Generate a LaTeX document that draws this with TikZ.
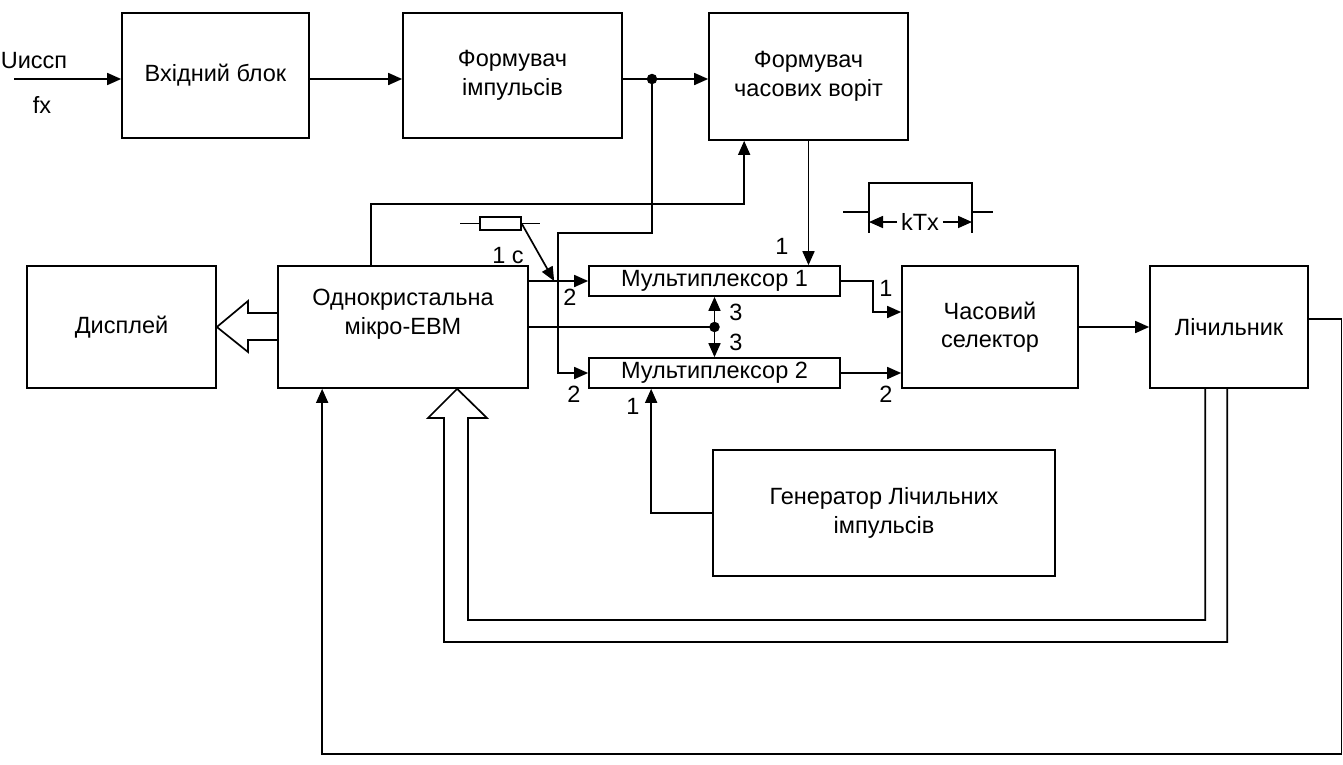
\documentclass[tikz,border=0pt]{standalone}
\usepackage{fontspec}
\setmainfont{Liberation Sans}
\usetikzlibrary{arrows.meta,calc}
\begin{document}
\begin{tikzpicture}[x=1pt,y=-1pt,line width=1.7pt,
  every node/.style={font=\fontsize{23.5}{28.5}\selectfont},
  blk/.style={draw,rectangle,inner sep=0pt,align=center},
  txt/.style={inner sep=0pt,align=center},
  arr/.style={-{Triangle[length=14pt,width=12pt]}},
  dot/.style={circle,fill,inner sep=0pt,minimum size=10.5pt}]
\useasboundingbox (0,0) rectangle (1343,764);

% blocks
\node[blk,minimum width=187pt,minimum height=125pt] (vb) at (215.5,75.5) {Вхідний блок};
\node[blk,minimum width=219pt,minimum height=125pt] (fi) at (512.5,75.5) {Формувач\\імпульсів};
\node[blk,minimum width=199pt,minimum height=127pt] (fcv) at (808.5,76.5) {Формувач\\часових воріт};
\node[blk,minimum width=189pt,minimum height=122pt] (disp) at (121.5,327) {Дисплей};
\node[blk,minimum width=250pt,minimum height=122pt] (evm) at (403,327) {};
\node[txt] (evmt) at ($(evm.center)+(0,-13)$) {Однокристальна\\мікро-ЕВМ};
\node[blk,minimum width=251pt,minimum height=30pt] (m1) at (714.5,281) {Мультиплексор 1};
\node[blk,minimum width=251pt,minimum height=30pt] (m2) at (714.5,373) {Мультиплексор 2};
\node[blk,minimum width=176pt,minimum height=122pt] (cs) at (990,327) {Часовий\\селектор};
\node[blk,minimum width=158pt,minimum height=122pt] (lich) at (1229,327) {Лічильник};
\node[blk,minimum width=342pt,minimum height=126pt] (gen) at (884,513) {Генератор Лічильних\\імпульсів};

% input
\coordinate (inp) at (14,79);
\node[txt] (u) at (34,61) {Uиссп};
\node[txt] (fx) at (42,105) {fx};
\draw[arr] (inp) -- (inp -| vb.west);
\draw[arr] (vb.east |- inp) -- (fi.west |- inp);
\draw[arr] (fi.east |- inp) -- (fcv.west |- inp);
\node[dot] (j1) at (652,79) {};

% branch from the pulse shaper to multiplexer 2
\coordinate (b1) at (652,233);
\coordinate (b2) at (558,233);
\draw[arr] (j1.center) -- (b1) -- (b2) -- (b2 |- m2.west) -- (m2.west);
\node[txt] (l2b) at (574,394) {2};

% microcomputer to multiplexer 1
\draw[arr] (evm.east |- m1.west) -- (m1.west);
\node[txt] (l2a) at (570,297) {2};

% 1 s reference resistor
\node[draw,rectangle,inner sep=0pt,minimum width=41pt,minimum height=13pt,line width=1.3pt] (res) at (500.5,223.5) {};
\coordinate (r1) at (460,223.5);
\coordinate (r2) at (540,223.5);
\draw[line width=1.3pt] (r1) -- (res.west);
\draw[line width=1.3pt] (res.east) -- (r2);
\coordinate (tap) at ($(m1.west)+(-34,0)$);
\draw[arr] (res.east) -- (tap);
\node[txt] (l1c) at (508,256) {1 c};

% control lines 3
\node[dot] (j2) at (m1.south |- evm.east) {};
\draw (evm.east) -- (j2.center);
\draw[arr] (j2.center) -- (m1.south);
\draw[arr] (j2.center) -- (m2.north);
\node[txt] (l3a) at (736,312) {3};
\node[txt] (l3b) at (736,342) {3};

% gate shaper to multiplexer 1
\draw[arr] (fcv.south) -- (fcv.south |- m1.north);
\node[txt] (l1a) at (782,246) {1};

% microcomputer controls gate shaper
\draw[arr] ($(evm.north west)+(94,0)$) |- ($(fcv.south west)+(36,63)$) -- ($(fcv.south west)+(36,0)$);

% multiplexers to time selector
\draw[arr] (m1.east) -- ++(32,0) |- ($(cs.west)+(0,-15)$);
\draw[arr] (m2.east) -- (m2.east -| cs.west);
\node[txt] (l1b) at (886,288) {1};
\node[txt] (l2c) at (886,394) {2};

% time selector to counter
\draw[arr] (cs.east) -- (lich.west);

% generator to multiplexer 2
\draw[arr] (gen.west) -| ($(m2.south west)+(63,0)$);
\node[txt] (l1d) at (633,406) {1};

% counter feedback to microcomputer
\draw[arr] ($(lich.east)+(0,-8)$) -- (1341.5,319) -- (1341.5,754) -| ($(evm.south west)+(45,0)$);

% data bus from counter (hollow arrow)
\draw ($(lich.south west)+(78,0)$) |- (444,642) -- (444,418) -- (428,418)
  -- ($(evm.south west)+(180,0)$) -- (487,418) -- (468,418) -- (468,620)
  -| ($(lich.south west)+(56,0)$);

% data bus to display (hollow arrow)
\draw ($(evm.west)+(0,-14)$) -- (248,313) -- (248,301) -- (disp.east)
  -- (248,352) -- (248,340) -- ($(evm.west)+(0,13)$);

% gate pulse of width kTx
\draw (843,212) -- (869,212) -- (869,183) -- (972,183) -- (972,212) -- (993,212);
\draw (869,212) -- (869,233);
\draw (972,212) -- (972,233);
\node[txt] (ktx) at (920,222) {kTx};
\draw[arr] ($(ktx.west)+(-3,0)$) -- (869,222);
\draw[arr] ($(ktx.east)+(3,0)$) -- (972,222);
\end{tikzpicture}
\end{document}
